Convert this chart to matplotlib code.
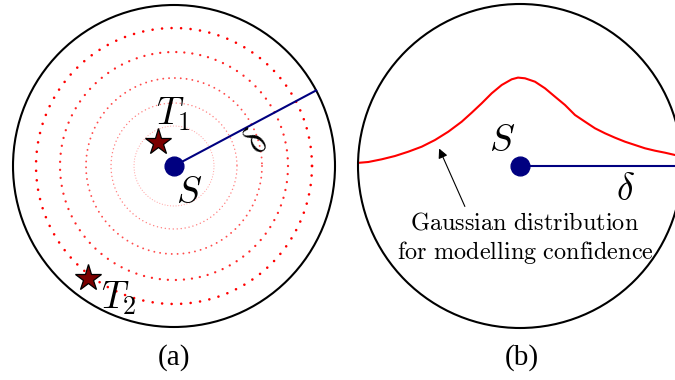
import numpy as np
import matplotlib
matplotlib.use("Agg")
from matplotlib import pyplot as plt
from matplotlib.patches import Circle

plt.rcParams['mathtext.fontset'] = 'cm'

# Panel (a): sensor S with detection range delta and confidence rings
center_a = (174, 166)
radius_a = 161
ring_radii = [40, 63, 88, 114, 138]
ring_alpha = [0.35, 0.5, 0.7, 0.85, 1.0]
ring_width = [0.9, 1.1, 1.4, 1.7, 1.9]
ring_gap = [2.2, 2.6, 3.0, 3.4, 3.6]
delta_angle_a = 28  # degrees above horizontal
targets_x = [158, 88]
targets_y = [142, 278]
target_labels = ['$T_1$', '$T_2$']

# Panel (b): Gaussian confidence profile
center_b = (520, 166)
radius_b = 162
curve_x = [360, 368.3, 381.7, 395, 408.3, 421.7, 435, 448.3, 461.7, 471.7, 481.7,
           491.7, 501.7, 511.7, 518, 525, 535, 545, 555, 565, 575, 585, 595, 605,
           615, 625, 635, 645, 655, 665, 675]
curve_y = [162.7, 162, 159.3, 156, 151.7, 146.7, 140, 131.7, 121.7, 112.7, 103.3,
           93.3, 85, 79.3, 77.6, 78.3, 81.7, 88.3, 96.7, 105, 115, 121.7, 128.3, 133.3,
           137.7, 141.7, 145, 148.3, 150.7, 152.7, 155]

fig = plt.figure(figsize=(6.75, 3.8), dpi=100)
ax = fig.add_axes([0, 0, 1, 1])
ax.set_xlim(0, 675)
ax.set_ylim(380, 0)
ax.set_aspect('equal')
ax.axis('off')

navy = '#000080'

# --- panel (a) ---
ax.add_patch(Circle(center_a, radius_a, fill=False, ec='black', lw=1.5))
theta = np.linspace(0, 2 * np.pi, 400)
for r, a, w, g in zip(ring_radii, ring_alpha, ring_width, ring_gap):
    ax.plot(center_a[0] + r * np.cos(theta), center_a[1] + r * np.sin(theta),
            color='red', alpha=a, lw=w, linestyle=(0, (0.01, g)),
            dash_capstyle='round')

ang = np.deg2rad(delta_angle_a)
ax.plot([center_a[0], center_a[0] + radius_a * np.cos(ang)],
        [center_a[1], center_a[1] - radius_a * np.sin(ang)], color=navy, lw=1.5)
ax.plot(*center_a, 'o', color=navy, ms=13.5)
ax.text(258, 143, r'$\delta$', fontsize=27, rotation=58, ha='center', va='center')
ax.text(189, 193, '$S$', fontsize=27, ha='center', va='center')

ax.plot(targets_x, targets_y, '*', color='#7a0000', mec='black', mew=0.9, ms=20)
ax.text(173, 114, target_labels[0], fontsize=27, ha='center', va='center')
ax.text(119, 298, target_labels[1], fontsize=27, ha='center', va='center')
ax.text(174, 358, '(a)', fontsize=21, family='Liberation Serif', ha='center', va='center')

# --- panel (b) ---
ax.add_patch(Circle(center_b, radius_b, fill=False, ec='black', lw=1.5))
ax.plot(curve_x, curve_y, color='red', lw=1.5)
ax.plot([center_b[0], 675], [center_b[1], center_b[1]], color=navy, lw=1.5)
ax.plot(*center_b, 'o', color=navy, ms=13.5)
ax.text(502, 141, '$S$', fontsize=27, ha='center', va='center')
ax.text(625, 190, r'$\delta$', fontsize=27, ha='center', va='center')

ax.annotate('', xy=(438, 146), xytext=(466, 209),
            arrowprops=dict(arrowstyle='-|>', color='black', lw=0.8, mutation_scale=14))
ax.text(525, 222, r'$\mathrm{Gaussian\ distribution}$', fontsize=17.5, ha='center', va='center')
ax.text(525, 252, r'$\mathrm{for\ modelling\ confidence}$', fontsize=17.5, ha='center', va='center')
ax.text(522, 358, '(b)', fontsize=21, family='Liberation Serif', ha='center', va='center')

fig.savefig('out.png', dpi=100)
